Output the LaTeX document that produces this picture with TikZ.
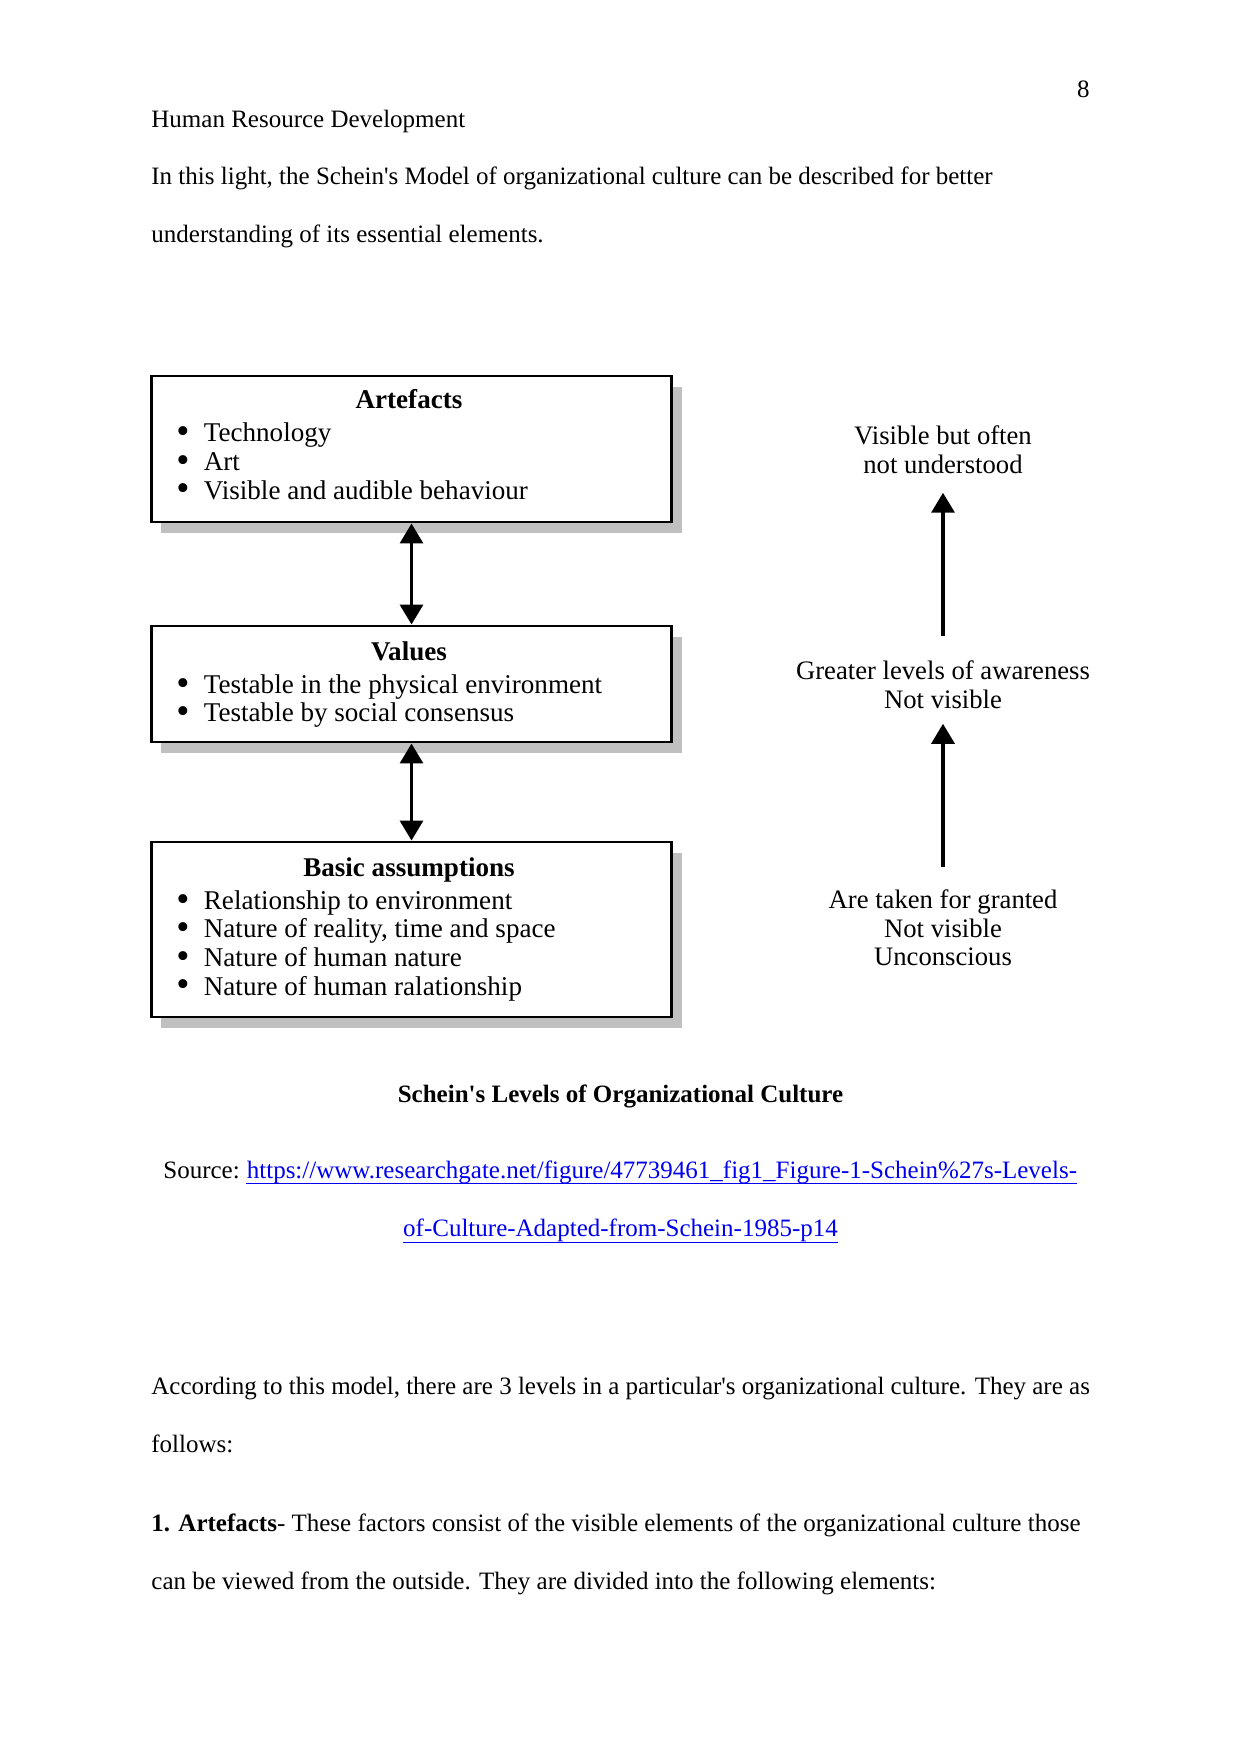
\documentclass[tikz,border=0pt]{standalone}
\usepackage{fontspec}
\setmainfont{Liberation Serif}
\usepackage{xcolor}
\usetikzlibrary{arrows.meta, shadows}
\definecolor{shadowgray}{RGB}{192,192,192}
\definecolor{linkblue}{RGB}{0,0,238}
\newcommand{\itm}{\makebox[13.2pt][l]{\raisebox{-0.9pt}{\fontsize{18}{13.7}\selectfont\textbullet}}}
\tikzset{
    pagetext/.style={anchor=base west, inner sep=0, font=\fontsize{12}{13.7}\selectfont},
    flow/.style={-{Triangle[length=9.6pt,width=11pt]}, line width=1.7pt},
    dflow/.style={{Triangle[length=9.6pt,width=11pt]}-{Triangle[length=9.6pt,width=11pt]}, line width=1.7pt}
}

\begin{document}
\begin{tikzpicture} [
    x=0.48pt, y=-0.48pt,
    level/.style={rectangle, draw, line width=1.4pt, fill=white, minimum width=250pt, inner sep=0,
        general shadow={fill=shadowgray, shadow xshift=4.8pt, shadow yshift=-5.3pt}},
    title/.style={anchor=base, inner sep=0, font=\fontsize{13}{13.7}\selectfont\bfseries},
    items/.style={anchor=base west, inner sep=0, align=left, font=\fontsize{13}{13.7}\selectfont},
    side/.style={anchor=base, inner sep=0, align=center, font=\fontsize{12.8}{13.7}\selectfont}
]
    \path[use as bounding box, fill=white] (0,0) rectangle (1241,1754);

    % Page header and text
    \node[pagetext, anchor=base east] (page_no) at (1090,97) {8};
    \node[pagetext] (header) at (151,127) {Human Resource Development};
    \node[pagetext] (intro_a) at (151,184) {In this light, the Schein\textquotesingle s Model of organizational culture can be described for better};
    \node[pagetext] (intro_b) at (151,242) {understanding of its essential elements.};

    % Levels
    \node[level, minimum height=70.1pt] (artefacts) at (411.5,449) {};
    \node[level, minimum height=55.7pt] (values) at (411.5,684) {};
    \node[level, minimum height=84pt] (basic) at (411.5,929.5) {};

    \node[title] (artefacts_title) at (409,408) {Artefacts};
    \node[items] (artefacts_list) at (176,499) {\itm Technology\\ \itm Art\\ \itm Visible and audible behaviour};

    \node[title] (values_title) at (409,660) {Values};
    \node[items] (values_list) at (176,721.7) {\itm Testable in the physical environment\\ \itm Testable by social consensus};

    \node[title] (basic_title) at (409,876.7) {Basic assumptions};
    \node[items] (basic_list) at (176,995) {\itm Relationship to environment\\ \itm Nature of reality, time and space\\ \itm Nature of human nature\\ \itm Nature of human ralationship};

    \draw[dflow] (artefacts.south) -- (values.north);
    \draw[dflow] (values.south) -- (basic.north);

    % Awareness scale
    \node[side] (visible) at (943,473.3) {Visible but often\\ not understood};
    \node[side] (greater) at (943,708.5) {Greater levels of awareness\\ Not visible};
    \node[side] (granted) at (943,965.7) {Are taken for granted\\ Not visible\\ Unconscious};

    \draw[flow, shorten <=12pt, shorten >=9pt] (greater.north) -- (visible.south);
    \draw[flow, shorten <=11pt, shorten >=7pt] (granted.north) -- (greater.south);

    % Caption and source
    \node[pagetext, anchor=base, font=\fontsize{12}{13.7}\selectfont\bfseries] (caption) at (620.5,1102) {Schein\textquotesingle s Levels of Organizational Culture};
    \node[pagetext] (source) at (163,1178) {Source:};
    \node[pagetext, text=linkblue] (link_a) at ([xshift=3pt]source.base east) {https://www.researchgate.net/figure/47739461\_fig1\_Figure-1-Schein\%27s-Levels-};
    \node[pagetext, anchor=base, text=linkblue] (link_b) at (620.5,1236.7) {of-Culture-Adapted-from-Schein-1985-p14};
    \draw[linkblue, line width=0.6pt] ([yshift=-2.6pt]link_a.base west) -- ([yshift=-2.6pt]link_a.base east);
    \draw[linkblue, line width=0.6pt] ([yshift=-2.6pt]link_b.base west) -- ([yshift=-2.6pt]link_b.base east);

    % Following text
    \node[pagetext] (body_a) at (151,1394) {According to this model, there are 3 levels in a particular\textquotesingle s organizational culture. They are as};
    \node[pagetext] (body_b) at (151,1452) {follows:};
    \node[pagetext] (body_c) at (151,1531) {\textbf{1. Artefacts}- These factors consist of the visible elements of the organizational culture those};
    \node[pagetext] (body_d) at (151,1589) {can be viewed from the outside. They are divided into the following elements:};
\end{tikzpicture}
\end{document}
